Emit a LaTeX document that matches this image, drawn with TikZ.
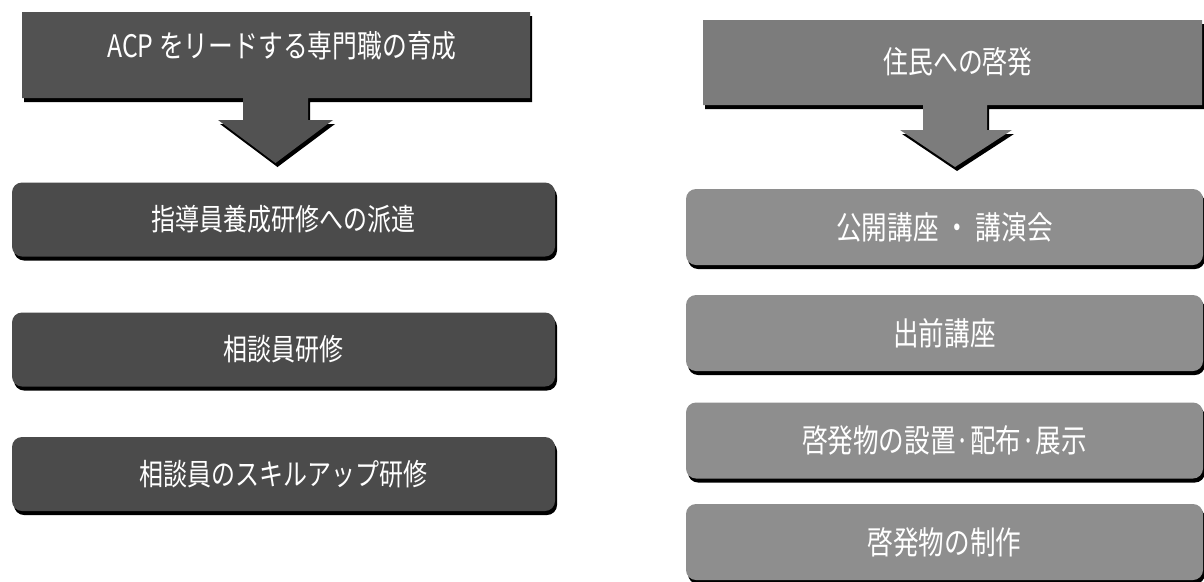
\documentclass[tikz,border=0pt]{standalone}
\usepackage{fontspec}
\newfontfamily\jp[FakeStretch=0.8]{Noto Sans CJK JP}
\usetikzlibrary{shadows}
\definecolor{lboxc}{HTML}{4B4B4B}
\definecolor{hdrL}{HTML}{525252}
\definecolor{hdrR}{HTML}{7C7C7C}
\definecolor{rboxc}{HTML}{8E8E8E}
\begin{document}
\begin{tikzpicture}[x=1pt,y=-1pt,
  myshadow/.style={drop shadow={shadow xshift=2pt,shadow yshift=-4pt,fill=black,opacity=1}},
  boxbase/.style={myshadow, rounded corners=10pt, text=white, inner sep=0pt},
  lbox/.style={boxbase, fill=lboxc, minimum width=543pt, minimum height=74pt, font=\jp\fontsize{30}{30}\selectfont},
  rbox/.style={boxbase, fill=rboxc, minimum width=517pt, minimum height=76pt, font=\jp\fontsize{32}{32}\selectfont},
  hdrtext/.style={text=white, inner sep=0pt, font=\jp\fontsize{31}{31}\selectfont}]
\useasboundingbox (0,0) rectangle (1204,581);
% left header callout
\path[myshadow, fill=hdrL] (22,12) -- (530,12) -- (530,98) -- (308,98) -- (308,120) -- (333,120)
  -- (275.5,163) -- (218,120) -- (243,120) -- (243,98) -- (22,98) -- cycle;
\node[hdrtext] (hl) at (282,46) {ACP をリードする専門職の育成};
% right header callout
\path[myshadow, fill=hdrR] (703,20) -- (1202,20) -- (1202,105) -- (987,105) -- (987,130) -- (1012,130)
  -- (955,167) -- (900,130) -- (923,130) -- (923,105) -- (703,105) -- cycle;
\node[hdrtext] (hr) at (958,62) {住民への啓発};
% left boxes
\node[lbox] (l1) at (283.5,219.5) {指導員養成研修への派遣};
\node[lbox] (l2) at (283.5,349.5) {相談員研修};
\node[lbox] (l3) at (283.5,474) {相談員のスキルアップ研修};
% right boxes
\node[rbox] (r1) at (944.5,227) {公開講座 ・ 講演会};
\node[rbox] (r2) at (944.5,333) {出前講座};
\node[rbox] (r3) at (944.5,440.5) {啓発物の設置·配布·展示};
\node[rbox] (r4) at (944.5,542) {啓発物の制作};
\end{tikzpicture}
\end{document}
